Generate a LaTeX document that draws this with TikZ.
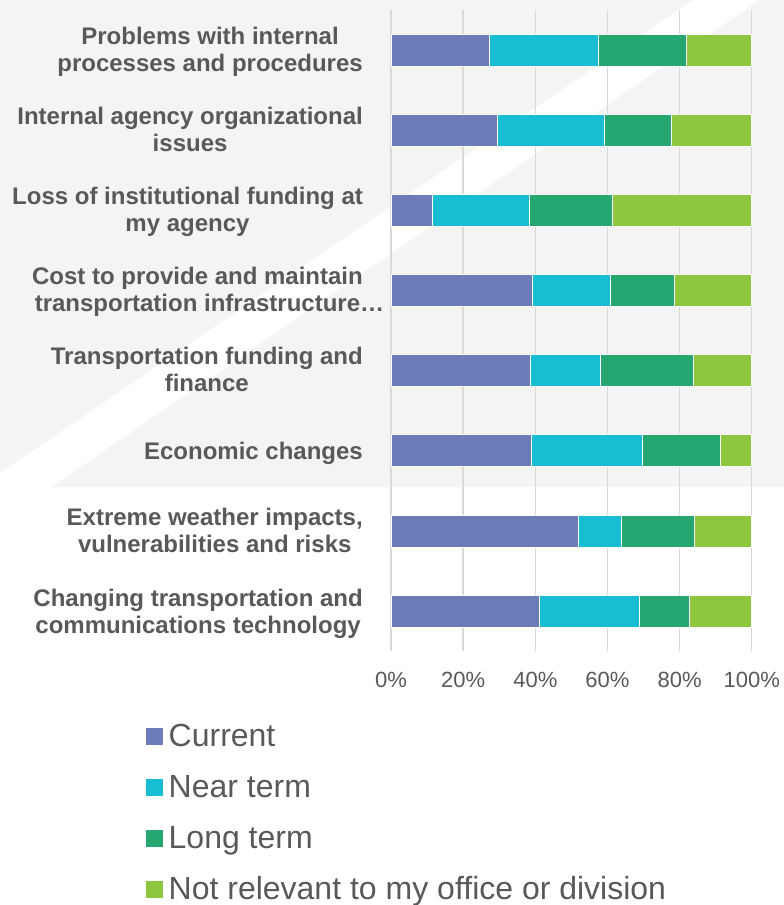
\documentclass[tikz,border=0pt]{standalone}
\usepackage{fontspec}
\setmainfont{Liberation Sans}
\definecolor{cur}{HTML}{6C7CB8}
\definecolor{near}{HTML}{17BED3}
\definecolor{long}{HTML}{26A772}
\definecolor{notrel}{HTML}{8DC63F}
\definecolor{gridc}{HTML}{D9D9D9}
\definecolor{txt}{HTML}{595959}
\definecolor{bgc}{HTML}{F4F4F4}
\newcommand\lbtop{\rule{0pt}{18pt}}
\newcommand\lbbot{\rule[-6pt]{0pt}{6pt}}
\begin{document}
\begin{tikzpicture}[x=1pt,y=-1pt,
  lab/.style={font=\fontsize{24}{26.5}\selectfont\bfseries, text=txt, align=center, inner sep=0pt, anchor=east},
  tick/.style={font=\fontsize{22}{26}\selectfont, text=txt, inner sep=0pt, anchor=base},
  legsq/.style={minimum size=17pt, inner sep=0pt, draw=none},
  legtxt/.style={font=\fontsize{32}{36}\selectfont, text=txt, inner sep=0pt, anchor=base west},
  seg/.style={draw=white, line width=0.5pt},
  gridl/.style={draw=gridc, line width=1.4pt}]
\useasboundingbox (0,0) rectangle (784,905);
\fill[white] (0,0) rectangle (784,905);
% background with diagonal stripe
\fill[bgc] (0,0) -- (693,0) -- (0,473) -- cycle;
\fill[bgc] (760,0) -- (784,0) -- (784,487) -- (52,487) -- cycle;
% gridlines
\foreach \gx in {391,463.1,535.3,607.4,679.6,751.7}
  \draw[gridl] (\gx,10) -- (\gx,651);
% bars
\foreach \cy/\a/\b/\c in {50/489/598.7/686, 130/497.3/604.3/671, 210/432.3/529.7/612.7,
  290/532/610/674, 370/530/600/693, 450/531.5/642/720, 531/578/621.7/694, 611/539.7/639.3/689}{
  \fill[cur,seg] (391,\cy-16) rectangle (\a,\cy+16);
  \fill[near,seg] (\a,\cy-16) rectangle (\b,\cy+16);
  \fill[long,seg] (\b,\cy-16) rectangle (\c,\cy+16);
  \fill[notrel,seg] (\c,\cy-16) rectangle (751.7,\cy+16);
}
% category labels
\node[lab] (c1) at (363,52) {\lbtop Problems with internal\\processes and procedures\lbbot};
\node[lab] (c2) at (363,132) {\lbtop Internal agency organizational\\issues\lbbot};
\node[lab] (c3) at (363,212) {\lbtop Loss of institutional funding at\\my agency\lbbot};
\node[lab] (c4) at (363,292) {\lbtop Cost to provide and maintain\\transportation infrastructure\rlap{…}\lbbot};
\node[lab] (c5) at (363,372) {\lbtop Transportation funding and\\finance\lbbot};
\node[lab] (c6) at (363,453) {\lbtop Economic changes\lbbot};
\node[lab] (c7) at (363,533) {\lbtop Extreme weather impacts,\\vulnerabilities and risks\lbbot};
\node[lab] (c8) at (363,614) {\lbtop Changing transportation and\\communications technology\lbbot};
% axis tick labels
\node[tick] (t0) at (391,687) {0\%};
\node[tick] (t1) at (463.1,687) {20\%};
\node[tick] (t2) at (535.3,687) {40\%};
\node[tick] (t3) at (607.4,687) {60\%};
\node[tick] (t4) at (679.6,687) {80\%};
\node[tick] (t5) at (751.7,687) {100\%};
% legend
\node[legsq, fill=cur] (s1) at (154.5,736.5) {};
\node[legsq, fill=near] (s2) at (154.5,787.5) {};
\node[legsq, fill=long] (s3) at (154.5,838.5) {};
\node[legsq, fill=notrel] (s4) at (154.5,889.5) {};
\node[legtxt] (l1) at (168.5,746) {Current};
\node[legtxt] (l2) at (168.5,797) {Near term};
\node[legtxt] (l3) at (168.5,848) {Long term};
\node[legtxt] (l4) at (168.5,899) {Not relevant to my office or division};
\end{tikzpicture}
\end{document}
